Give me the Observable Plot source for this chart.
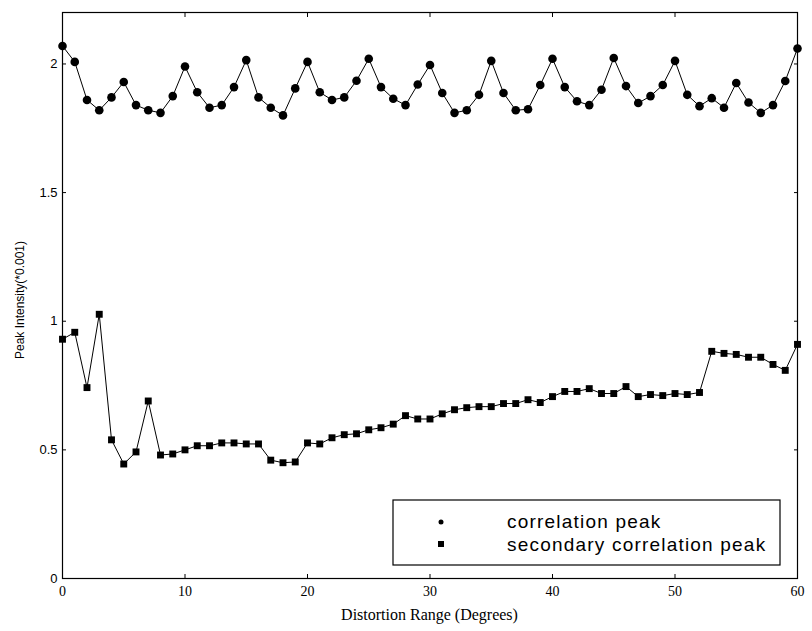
<!DOCTYPE html>
<html>
<head>
<meta charset="utf-8">
<script src="https://cdn.jsdelivr.net/npm/d3@7"></script>
<script src="https://cdn.jsdelivr.net/npm/@observablehq/plot@0.6"></script>
<style>
  html, body { margin: 0; padding: 0; background: #fff; }
  #chart { width: 812px; height: 631px; }
</style>
</head>
<body>
<div id="chart"></div>
<script>
const degrees = [0,1,2,3,4,5,6,7,8,9,10,11,12,13,14,15,16,17,18,19,20,21,22,23,24,25,26,27,28,29,30,31,32,33,34,35,36,37,38,39,40,41,42,43,44,45,46,47,48,49,50,51,52,53,54,55,56,57,58,59,60];
const correlationPeak = [
  2.07, 2.008, 1.86, 1.82, 1.87, 1.93, 1.84, 1.82, 1.81, 1.875,
  1.99, 1.89, 1.83, 1.84, 1.91, 2.015, 1.87, 1.83, 1.80, 1.905,
  2.008, 1.89, 1.86, 1.87, 1.935, 2.02, 1.91, 1.865, 1.84, 1.92,
  1.996, 1.887, 1.81, 1.82, 1.88, 2.012, 1.887, 1.82, 1.824, 1.918,
  2.02, 1.91, 1.855, 1.84, 1.90, 2.023, 1.914, 1.848, 1.875, 1.918,
  2.012, 1.88, 1.836, 1.867, 1.83, 1.926, 1.85, 1.81, 1.84, 1.934, 2.06
];
const secondaryPeak = [
  0.93, 0.957, 0.742, 1.027, 0.539, 0.445, 0.492, 0.69, 0.48, 0.484,
  0.50, 0.516, 0.516, 0.527, 0.527, 0.523, 0.523, 0.46, 0.45, 0.453,
  0.527, 0.523, 0.547, 0.559, 0.5625, 0.578, 0.586, 0.60, 0.633, 0.62,
  0.62, 0.64, 0.656, 0.664, 0.668, 0.668, 0.68, 0.68, 0.695, 0.684,
  0.707, 0.727, 0.727, 0.738, 0.719, 0.719, 0.746, 0.707, 0.715, 0.711,
  0.719, 0.715, 0.723, 0.883, 0.875, 0.871, 0.86, 0.86, 0.832, 0.809, 0.91
];
const xTicks = [0, 10, 20, 30, 40, 50, 60];
const yTicks = [0, 0.5, 1, 1.5, 2];
const seriesNames = ["correlation peak", "secondary correlation peak"];
const xLabel = "Distortion Range (Degrees)";
const yLabel = "Peak Intensity(*0.001)";

const topSeries = degrees.map((d, i) => ({x: d, y: correlationPeak[i]}));
const bottomSeries = degrees.map((d, i) => ({x: d, y: secondaryPeak[i]}));

const W = 812, H = 631;
const mL = 62, mR = 15, mT = 12, mB = 53;

const chart = Plot.plot({
  width: W,
  height: H,
  marginLeft: mL,
  marginRight: mR,
  marginTop: mT,
  marginBottom: mB,
  style: {background: "#fff", color: "#000", overflow: "visible"},
  x: {domain: [0, 60]},
  y: {domain: [0, 2.2]},
  marks: [
    Plot.frame({stroke: "#000", strokeWidth: 1.2}),
    Plot.axisX({anchor: "bottom", ticks: xTicks, tickSize: -4, text: null, label: null}),
    Plot.axisX({anchor: "top", ticks: xTicks, tickSize: -4, text: null, label: null}),
    Plot.axisY({anchor: "left", ticks: yTicks, tickSize: -4, text: null, label: null}),
    Plot.axisY({anchor: "right", ticks: yTicks, tickSize: -4, text: null, label: null}),
    Plot.axisX({anchor: "bottom", ticks: xTicks, tickSize: 0, tickPadding: 8, label: null,
      fontFamily: "Liberation Serif", fontSize: 14, tickFormat: d => String(d)}),
    Plot.axisY({anchor: "left", ticks: yTicks, tickSize: 0, tickPadding: 5, label: null,
      fontFamily: "Liberation Sans", fontSize: 13, tickFormat: d => String(d)}),
    Plot.line(topSeries, {x: "x", y: "y", stroke: "#000", strokeWidth: 1}),
    Plot.dot(topSeries, {x: "x", y: "y", r: 4.3, fill: "#000", stroke: "none", symbol: "circle"}),
    Plot.line(bottomSeries, {x: "x", y: "y", stroke: "#000", strokeWidth: 1}),
    Plot.dot(bottomSeries, {x: "x", y: "y", r: 3.9, fill: "#000", stroke: "none", symbol: "square"})
  ]
});

document.getElementById("chart").appendChild(chart);

const svg = d3.select(chart);
svg.append("text")
  .attr("x", (mL + W - mR) / 2).attr("y", 620)
  .attr("text-anchor", "middle")
  .attr("font-family", "Liberation Serif").attr("font-size", 16).attr("fill", "#000")
  .text(xLabel);
svg.append("text")
  .attr("transform", `translate(24, 300) rotate(-90)`)
  .attr("text-anchor", "middle")
  .attr("font-family", "Liberation Sans").attr("font-size", 12).attr("fill", "#000")
  .text(yLabel);

const lg = svg.append("g").attr("text-anchor", "start");
lg.append("rect").attr("x", 393).attr("y", 500).attr("width", 387).attr("height", 65)
  .attr("fill", "#fff").attr("stroke", "#000").attr("stroke-width", 1.2);
lg.append("circle").attr("cx", 441).attr("cy", 522).attr("r", 2.5).attr("fill", "#000");
lg.append("rect").attr("x", 438).attr("y", 541).attr("width", 6).attr("height", 6).attr("fill", "#000");
lg.append("text").attr("x", 507).attr("y", 528).attr("text-anchor", "start")
  .attr("font-family", "Liberation Sans").attr("font-size", 19).attr("letter-spacing", 1.2).attr("fill", "#000")
  .text(seriesNames[0]);
lg.append("text").attr("x", 507).attr("y", 551).attr("text-anchor", "start")
  .attr("font-family", "Liberation Sans").attr("font-size", 19).attr("letter-spacing", 1.2).attr("fill", "#000")
  .text(seriesNames[1]);
</script>
</body>
</html>
